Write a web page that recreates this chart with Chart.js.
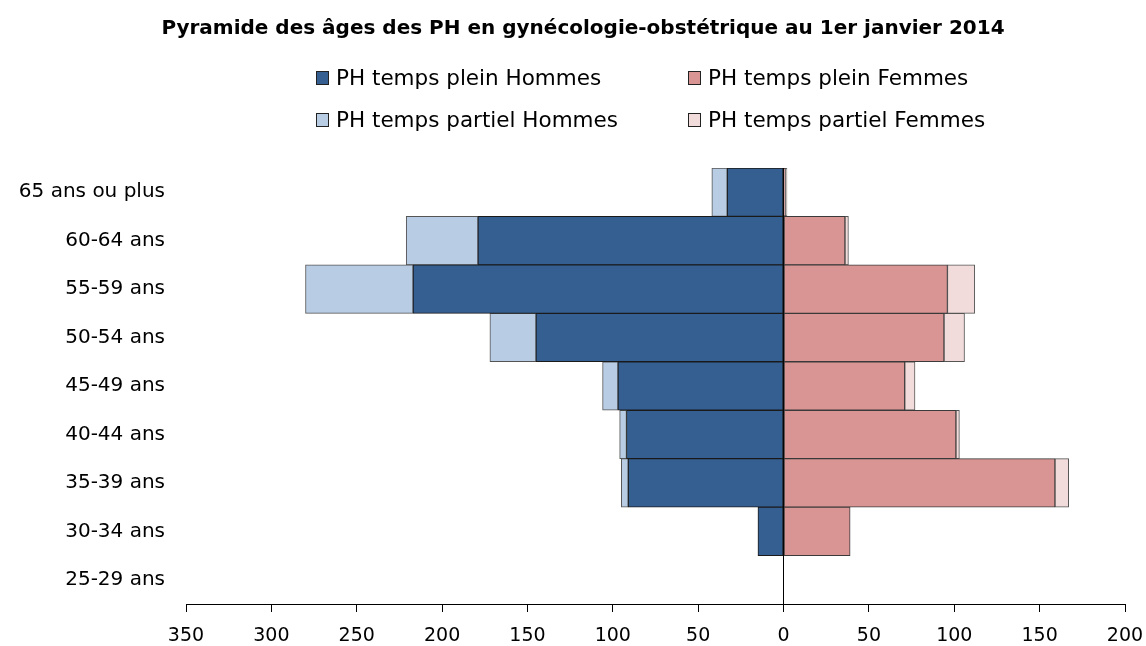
<!DOCTYPE html>
<html>
<head>
<meta charset="utf-8">
<script src="https://cdn.jsdelivr.net/npm/chart.js@4/dist/chart.umd.min.js"></script>
<style>
html,body{margin:0;padding:0;background:#fff;}
#wrap{width:1146px;height:646px;position:relative;}
</style>
</head>
<body>
<div id="wrap"><canvas id="c" width="1146" height="646"></canvas></div>
<script>
const categories = ["65 ans ou plus","60-64 ans","55-59 ans","50-54 ans","45-49 ans","40-44 ans","35-39 ans","30-34 ans","25-29 ans"];
const pleinHommes   = [33,179,217,145,97,92,91,15,0];
const partielHommes = [9,42,63,27,9,4,4,0,0];
const pleinFemmes   = [1,36,96,94,71,101,159,39,0];
const partielFemmes = [1,2,16,12,6,2,8,0,0];
const seriesNames = ["PH temps plein Hommes","PH temps plein Femmes","PH temps partiel Hommes","PH temps partiel Femmes"];
const xTicks = [-350,-300,-250,-200,-150,-100,-50,0,50,100,150,200];
const titleText = "Pyramide des âges des PH en gynécologie-obstétrique au 1er janvier 2014";

const FONT = "'DejaVu Sans', sans-serif";
const colors = ["#355f91","#d99594","#b8cce4","#f2dcdb"];
const borders = ["#1a1a1a","#3a3a3a","#555555","#555555"];

const neg = a => a.map(v => -v);

const headerPlugin = {
  id: 'header',
  afterDraw(chart) {
    const ctx = chart.ctx;
    ctx.save();
    ctx.fillStyle = '#000';
    ctx.font = "bold 20px " + FONT;
    ctx.textAlign = 'center';
    ctx.textBaseline = 'middle';
    ctx.fillText(titleText, 583, 29);
    const pos = [[316,78],[688,78],[316,120],[688,120]];
    ctx.font = "21.5px " + FONT;
    ctx.textAlign = 'left';
    seriesNames.forEach((name, i) => {
      const [x, y] = pos[i];
      ctx.fillStyle = colors[i];
      ctx.fillRect(x + 0.5, y - 6.5, 12, 13);
      ctx.strokeStyle = '#222';
      ctx.lineWidth = 1;
      ctx.strokeRect(x + 0.5, y - 6.5, 12, 13);
      ctx.fillStyle = '#000';
      ctx.fillText(name, x + 20, y + 1);
    });
    ctx.restore();
  }
};

new Chart(document.getElementById('c'), {
  type: 'bar',
  data: {
    labels: categories,
    datasets: [
      {label: seriesNames[0], data: neg(pleinHommes), backgroundColor: colors[0], borderColor: borders[0]},
      {label: seriesNames[1], data: pleinFemmes, backgroundColor: colors[1], borderColor: borders[1]},
      {label: seriesNames[2], data: neg(partielHommes), backgroundColor: colors[2], borderColor: borders[2]},
      {label: seriesNames[3], data: partielFemmes, backgroundColor: colors[3], borderColor: borders[3]}
    ]
  },
  options: {
    indexAxis: 'y',
    responsive: false,
    animation: false,
    devicePixelRatio: 1,
    layout: {padding: {left: 0, right: 21, top: 168, bottom: 0}},
    datasets: {bar: {barPercentage: 1, categoryPercentage: 1, borderWidth: 1, borderSkipped: false}},
    plugins: {
      legend: {display: false},
      tooltip: {enabled: false},
      title: {display: false}
    },
    scales: {
      x: {
        stacked: true,
        min: -350, max: 200,
        afterBuildTicks(scale) { scale.ticks = xTicks.map(v => ({value: v})); },
        afterFit(scale) { scale.height = 42; scale.paddingLeft = 0; scale.paddingRight = 0; },
        ticks: {
          color: '#000',
          font: {family: FONT, size: 19},
          padding: 13,
          maxRotation: 0,
          callback: v => String(Math.abs(v))
        },
        grid: {
          drawOnChartArea: true,
          color: c => (c.tick && c.tick.value === 0) ? '#000' : 'rgba(0,0,0,0)',
          tickColor: '#000',
          tickLength: 8,
          lineWidth: 1
        },
        border: {display: true, color: '#000', width: 1}
      },
      y: {
        stacked: true,
        afterFit(scale) { scale.width = 186; },
        ticks: {color: '#000', font: {family: FONT, size: 20}, padding: 13},
        grid: {display: false},
        border: {display: false}
      }
    }
  },
  plugins: [headerPlugin]
});
</script>
</body>
</html>
